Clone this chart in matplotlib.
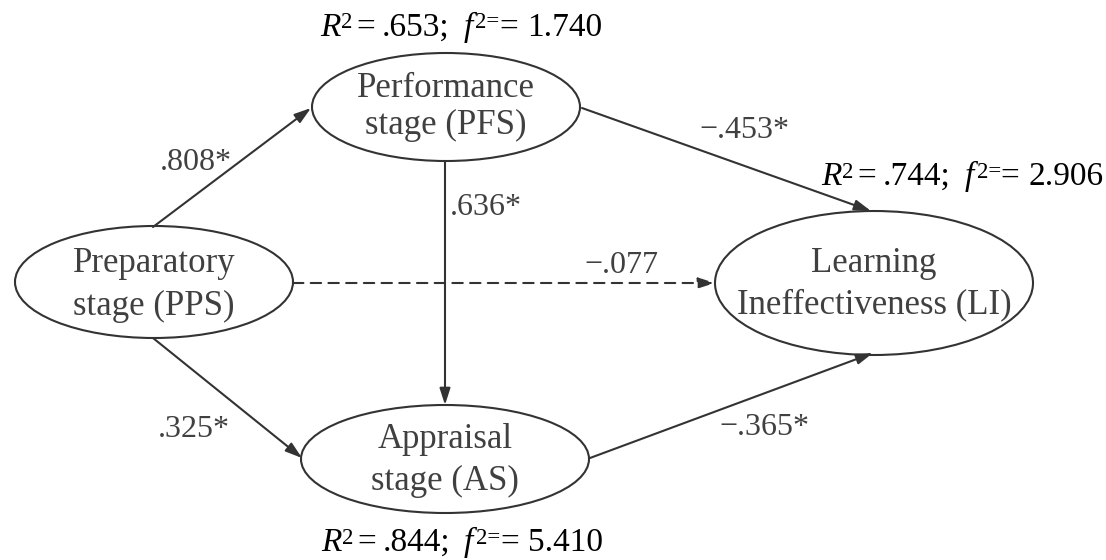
import matplotlib
matplotlib.use("Agg")
import matplotlib.pyplot as plt
from matplotlib.patches import Ellipse, FancyArrowPatch, ArrowStyle

plt.rcParams['font.family'] = ['Liberation Serif', 'DejaVu Serif']

# ---- data ----
nodes = ["PPS", "PFS", "AS", "LI"]
node_labels = {
    "PPS": ["Preparatory", "stage (PPS)"],
    "PFS": ["Performance", "stage (PFS)"],
    "AS": ["Appraisal", "stage (AS)"],
    "LI": ["Learning", "Ineffectiveness (LI)"],
}
edges = [("PPS", "PFS"), ("PFS", "LI"), ("PFS", "AS"), ("PPS", "LI"), ("PPS", "AS"), ("AS", "LI")]
coefs = [".808*", "\u2212.453*", ".636*", "\u2212.077", ".325*", "\u2212.365*"]
significant = [True, True, True, False, True, True]
r2_nodes = ["PFS", "LI", "AS"]
r2_values = [".653", ".744", ".844"]
f2_values = ["1.740", "2.906", "5.410"]

# ---- layout (pixel coordinates, y downward) ----
W, H = 1106, 560
ell = {  # cx, cy, w, h
    "PPS": (154, 282, 278, 112),
    "PFS": (446, 107, 268, 108),
    "AS": (445, 459, 288, 108),
    "LI": (874, 283, 318, 144),
}
label_base = {  # baselines of the two lines
    "PPS": (272, 315),
    "PFS": (97, 134),
    "AS": (448, 490),
    "LI": (272, 313),
}
edge_pts = [
    ((153, 227), (311, 108)),
    ((582, 108), (871, 211)),
    ((445, 161), (445, 405)),
    ((293, 283), (715, 283)),
    ((153, 338), (302, 458)),
    ((590, 458), (873, 353)),
]
coef_pos = [(196, 170), (744, 138), (486, 215), (621, 273), (194, 437), (764, 435)]
r2_pos = [(320, 36), (821, 185), (321, 551)]

LINE = "#333333"
TXT = "#404040"
FS_NODE = 25
FS_COEF = 23
FS_R2 = 24
FS_SUP = 16.5
SUP_RAISE = 7.5

fig = plt.figure(figsize=(W / 100, H / 100), dpi=100)
ax = fig.add_axes([0, 0, 1, 1])
ax.set_xlim(0, W)
ax.set_ylim(H, 0)
ax.axis("off")
renderer = fig.canvas.get_renderer()

for n in nodes:
    cx, cy, w, h = ell[n]
    ax.add_patch(Ellipse((cx, cy), w, h, fill=False, ec=LINE, lw=1.5))
    for line, yb in zip(node_labels[n], label_base[n]):
        ax.text(cx, yb, line, ha="center", va="baseline", fontsize=FS_NODE, color=TXT)

style = ArrowStyle("-|>", head_length=10, head_width=3.2)
for (a, b), (p0, p1), c, sig, cp in zip(edges, edge_pts, coefs, significant, coef_pos):
    arr = FancyArrowPatch(p0, p1, arrowstyle=style, mutation_scale=1,
                          color=LINE, lw=1.5, shrinkA=0, shrinkB=0,
                          linestyle="-" if sig else (0, (5, 3.5)))
    ax.add_patch(arr)
    ax.text(cp[0], cp[1], c, ha="center", va="baseline", fontsize=FS_COEF, color=TXT)


def rich_text(x, y, pieces):
    # pieces: (text, style, size, raise_px, gap_before_px)
    for txt, st, size, rz, gap in pieces:
        x += gap
        t = ax.text(x, y - rz, txt, ha="left", va="baseline", fontsize=size,
                    fontstyle=st, color="black")
        bb = t.get_window_extent(renderer)
        x += bb.width


for n, r, f, p in zip(r2_nodes, r2_values, f2_values, r2_pos):
    pieces = [
        ("R", "italic", FS_R2, 0, 0),
        ("2", "normal", FS_SUP, SUP_RAISE, 1),
        ("=", "normal", FS_R2, 0, 4),
        (r + ";", "normal", FS_R2, 0, 6),
        ("f", "italic", FS_R2, 0, 14),
        ("2=", "normal", FS_SUP, SUP_RAISE, 3),
        ("=", "normal", FS_R2, 0, 0),
        (f, "normal", FS_R2, 0, 9),
    ]
    rich_text(p[0], p[1], pieces)

fig.savefig("out.png", dpi=100)
